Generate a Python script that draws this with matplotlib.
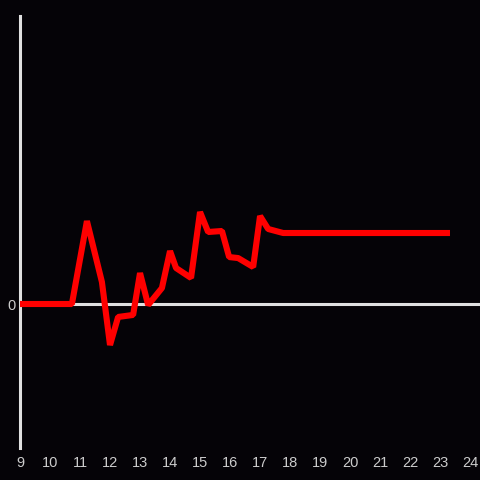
import numpy as np
import matplotlib.pyplot as plt

# hour of day and value (zero line = 0)
hours = [9.0, 10.73, 11.23, 11.73, 12.0, 12.27, 12.77, 13.0, 13.27, 13.73,
         14.0, 14.2, 14.7, 15.0, 15.27, 15.73, 15.97, 16.27, 16.77, 17.0,
         17.27, 17.77, 23.33]
values = [0.0, 0.0, 0.576, 0.153, -0.285, -0.090, -0.076, 0.215, -0.007, 0.111,
          0.368, 0.250, 0.181, 0.639, 0.500, 0.507, 0.326, 0.319, 0.257, 0.611,
          0.521, 0.493, 0.493]
xticks = list(range(9, 25))

bg = '#050307'
axis_col = '#e0e0e0'

fig = plt.figure(figsize=(4.8, 4.8), dpi=100, facecolor=bg)
ax = fig.add_axes([20 / 480, 32 / 480, 460 / 480, 432 / 480])
ax.set_facecolor(bg)

ax.axhline(0, color=axis_col, lw=2.2, zorder=1)
ax.plot(hours, values, color='#ff0000', lw=4.4, solid_joinstyle='bevel',
        solid_capstyle='butt', zorder=3)

ax.set_xlim(9, 24.33)
ax.set_ylim(-1, 2)

for s in ['top', 'right', 'bottom']:
    ax.spines[s].set_visible(False)
ax.spines['left'].set_color(axis_col)
ax.spines['left'].set_linewidth(2.2)

ax.set_xticks(xticks)
ax.set_xticklabels([str(t) for t in xticks])
ax.set_yticks([0])
ax.set_yticklabels(['0'])
ax.tick_params(axis='both', length=0, colors='#cccccc', labelsize=10.5)
ax.tick_params(axis='x', pad=6)
ax.tick_params(axis='y', pad=3)
for lab in ax.get_xticklabels() + ax.get_yticklabels():
    lab.set_fontfamily('Liberation Sans')

fig.savefig('out.png', dpi=100, facecolor=bg)
